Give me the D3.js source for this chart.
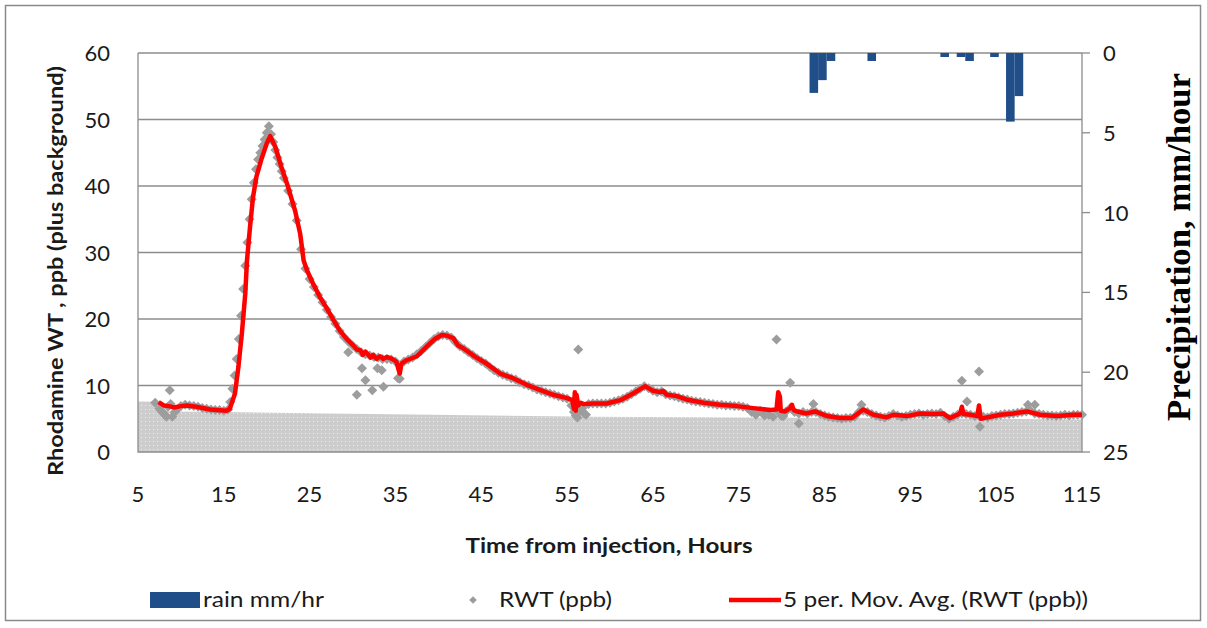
<!DOCTYPE html>
<html>
<head>
<meta charset="utf-8">
<script src="https://cdn.jsdelivr.net/npm/d3@7"></script>
<style>
  body { margin: 0; background: #fff; }
  svg { display: block; font-family: Lato, "Open Sans", sans-serif; }
</style>
</head>
<body>
<svg id="chart"></svg>
<script>
// RWT readings, hours from injection vs ppb
const rwt = [
  [7.0,7.4],[7.5,6.5],[8.0,5.8],[8.5,6.8],[9.0,5.3],[9.5,6.3],[10.0,6.9],[10.5,7.1],[11.0,7.0],[11.5,6.9],
  [12.0,6.8],[12.5,6.6],[13.0,6.5],[13.5,6.4],[14.0,6.3],[14.5,6.3],[15.0,6.2],[15.5,6.4],[15.75,7.5],[16.0,9.5],
  [16.25,11.5],[16.5,14.0],[16.75,17.0],[17.0,20.5],[17.25,24.5],[17.5,28.0],[17.75,31.5],[18.0,35.0],[18.25,38.0],[18.5,40.5],
  [18.75,42.5],[19.0,44.0],[19.25,45.0],[19.5,46.0],[19.75,47.0],[20.0,48.0],[20.25,49.0],[20.5,47.8],[20.75,46.6],[21.0,45.4],
  [21.25,44.3],[21.5,43.3],[21.75,42.2],[22.0,41.2],[22.5,39.3],[23.0,37.3],[23.5,34.8],[24.0,30.5],[24.5,27.6],[25.0,26.0],
  [25.5,24.8],[26.0,23.6],[26.5,22.5],[27.0,21.4],[27.5,20.3],[28.0,19.3],[28.5,18.2],[29.0,17.3],[29.5,16.6],[30.0,16.0],
  [30.5,15.5],[31.0,15.0],[31.5,14.7],[32.0,14.5],[32.5,14.3],[33.0,14.2],[33.5,14.0],[34.0,14.0],[34.5,13.9],[35.0,13.6],
  [35.5,11.0],[36.0,13.6],[36.5,13.9],[37.0,14.2],[37.5,14.7],[38.0,15.2],[38.5,15.8],[39.0,16.4],[39.5,17.0],[40.0,17.4],
  [40.5,17.6],[41.0,17.5],[41.5,17.2],[42.0,16.5],[42.5,15.9],[43.0,15.5],[43.5,15.0],[44.0,14.6],[44.5,14.1],[45.0,13.7],
  [45.5,13.3],[46.0,12.8],[46.5,12.3],[47.0,11.9],[47.5,11.6],[48.0,11.4],[48.5,11.1],[49.0,10.9],[49.5,10.5],[50.0,10.2],
  [50.5,10.0],[51.0,9.7],[51.5,9.4],[52.0,9.2],[52.5,9.0],[53.0,8.8],[53.5,8.6],[54.0,8.4],[54.5,8.2],[55.0,8.0],
  [55.5,7.0],[56.0,5.5],[56.5,6.2],[57.0,5.8],[57.5,7.2],[58.0,7.3],[58.5,7.3],[59.0,7.3],[59.5,7.3],[60.0,7.4],
  [60.5,7.6],[61.0,7.8],[61.5,8.0],[62.0,8.3],[62.5,8.7],[63.0,9.1],[63.5,9.5],[64.0,9.9],[64.5,9.6],[65.0,9.2],
  [65.5,9.0],[66.0,9.1],[66.5,8.7],[67.0,8.5],[67.5,8.4],[68.0,8.2],[68.5,8.0],[69.0,7.9],[69.5,7.7],[70.0,7.6],
  [70.5,7.5],[71.0,7.4],[71.5,7.3],[72.0,7.2],[72.5,7.1],[73.0,7.1],[73.5,7.0],[74.0,7.0],[74.5,6.9],[75.0,6.9],
  [75.5,6.8],[76.0,6.6],[76.5,6.0],[77.0,5.6],[77.5,6.2],[78.0,5.5],[78.5,5.6],[79.0,5.3],[79.5,6.2],[80.0,5.4],
  [80.5,6.1],[81.0,6.6],[81.5,6.0],[82.0,5.8],[82.5,6.0],[83.0,5.8],[83.5,6.0],[84.0,6.0],[84.5,5.7],[85.0,5.5],
  [85.5,5.3],[86.0,5.2],[86.5,5.1],[87.0,5.0],[87.5,5.1],[88.0,5.1],[88.5,5.3],[89.0,6.0],[89.5,6.2],[90.0,6.0],
  [90.5,5.7],[91.0,5.5],[91.5,5.3],[92.0,5.2],[92.5,5.4],[93.0,5.7],[93.5,5.5],[94.0,5.3],[94.5,5.4],[95.0,5.6],
  [95.5,5.7],[96.0,5.8],[96.5,5.6],[97.0,5.7],[97.5,5.8],[98.0,5.7],[98.5,5.9],[99.0,5.4],[99.5,5.0],[100.0,5.3],
  [100.5,5.6],[101.0,5.8],[101.5,5.7],[102.0,5.6],[102.5,5.4],[103.0,5.5],[103.5,5.3],[104.0,5.2],[104.5,5.4],[105.0,5.5],
  [105.5,5.6],[106.0,5.7],[106.5,5.7],[107.0,5.8],[107.5,5.9],[108.0,6.0],[108.5,6.1],[109.0,6.2],[109.5,5.8],[110.0,5.7],
  [110.5,5.6],[111.0,5.5],[111.5,5.5],[112.0,5.4],[112.5,5.5],[113.0,5.6],[113.5,5.5],[114.0,5.6],[114.5,5.6],[115.0,5.6]
];

// RWT readings that sit off the main band
const rwtStray = [
  [7.8,6.0],[8.3,5.3],[8.7,9.3],[8.8,7.2],[9.3,6.0],[29.5,15.0],[30.5,8.6],[31.1,12.6],[31.5,10.8],[32.3,9.3],
  [32.9,12.6],[33.4,12.3],[33.6,9.8],[35.3,11.1],[55.8,6.0],[56.2,5.2],[56.3,15.4],[56.8,6.6],[57.2,5.6],[79.4,16.9],
  [80.2,5.4],[81.0,10.4],[82.0,4.3],[83.7,7.2],[89.3,7.1],[101.0,10.7],[101.6,7.6],[103.0,12.1],[103.1,3.8],[108.7,7.1],
  [109.5,7.1]
];

// 5 period moving average of RWT (red line)
const movAvg = [
  [7.4,7.5],[8.0,7.0],[8.6,6.9],[9.2,6.7],[10.0,6.9],[10.7,7.0],[11.8,6.8],[13.4,6.4],[15.3,6.2],[15.7,6.5],
  [16.3,8.8],[16.7,12.8],[17.1,17.8],[17.5,23.8],[17.7,28.8],[18.05,33.8],[18.4,38.3],[18.8,41.4],[19.4,44.1],[20.0,46.4],
  [20.4,47.5],[21.0,45.9],[21.7,42.9],[22.5,39.8],[23.3,36.3],[23.9,32.8],[24.3,28.8],[24.7,27.3],[25.4,25.3],[26.2,23.3],
  [27.0,21.6],[27.8,19.8],[28.5,18.3],[29.3,17.0],[30.1,16.0],[30.5,15.4],[30.9,15.3],[31.2,14.6],[31.5,15.1],[31.7,14.8],
  [32.1,14.2],[32.4,14.6],[32.8,14.0],[33.2,14.4],[33.6,14.0],[34.0,14.3],[34.6,14.0],[35.1,13.6],[35.5,11.8],[35.7,13.3],
  [36.3,13.8],[37.5,14.4],[38.6,15.8],[39.6,17.0],[40.4,17.6],[41.0,17.5],[41.75,17.1],[42.3,16.0],[42.9,15.6],[44.3,14.3],
  [45.6,13.3],[47.2,11.8],[48.7,11.1],[50.3,10.1],[51.9,9.3],[53.4,8.6],[55.0,8.1],[55.6,7.8],[55.8,6.5],[55.9,9.0],
  [56.0,6.2],[56.1,8.6],[56.3,7.0],[56.6,7.4],[56.9,7.2],[58.0,7.3],[59.6,7.3],[61.2,7.8],[62.7,8.8],[64.1,9.9],
  [65.0,9.2],[65.8,9.0],[66.2,9.2],[66.6,8.6],[67.8,8.4],[68.9,7.9],[70.9,7.4],[72.8,7.1],[74.8,6.9],[76.7,6.6],
  [78.7,6.3],[79.4,6.4],[79.6,9.0],[79.8,8.3],[79.9,6.2],[80.4,6.1],[81.0,6.6],[81.2,7.1],[81.4,6.3],[81.8,6.1],
  [82.9,5.8],[83.9,6.1],[85.3,5.4],[86.8,5.1],[88.2,5.1],[89.5,6.4],[90.7,5.6],[92.2,5.2],[93.0,5.6],[94.6,5.4],
  [96.1,5.8],[97.7,5.7],[98.8,5.8],[99.6,5.1],[100.8,5.8],[101.0,6.8],[101.2,5.7],[102.0,5.6],[102.8,5.4],[103.0,7.0],
  [103.2,5.0],[103.9,5.2],[105.5,5.6],[107.0,5.8],[108.6,6.1],[110.1,5.6],[112.1,5.4],[114.0,5.6],[115.0,5.6]
];

// hourly rain, mm/hr (bar centre hour, value)
const rain = [
  [83.75,2.5],[84.75,1.7],[85.75,0.5],[90.5,0.5],[99.0,0.25],[100.9,0.25],[101.9,0.5],[104.8,0.25],[106.65,4.3],[107.65,2.7]
];

// background level shaded under the data
const background = [[5,7.6],[7.2,7.6],[8.5,6.1],[15.5,6.0],[58,5.3],[76,5.2],[115,4.9]];

const xTicks = [5, 15, 25, 35, 45, 55, 65, 75, 85, 95, 105, 115];
const yTicks = [0, 10, 20, 30, 40, 50, 60];
const rainTicks = [0, 5, 10, 15, 20, 25];

const width = 1207, height = 628;
const plot = {left: 138, right: 1082, top: 53, bottom: 452};

const svg = d3.select("#chart")
  .attr("width", width)
  .attr("height", height);

// outer frame
svg.append("rect")
  .attr("x", 5.5).attr("y", 5.5)
  .attr("width", 1195).attr("height", 615)
  .attr("fill", "#fff")
  .attr("stroke", "#8a8a8a")
  .attr("stroke-width", 1.5);

const x = d3.scaleLinear().domain([5, 115]).range([plot.left, plot.right]);
const y = d3.scaleLinear().domain([0, 60]).range([plot.bottom, plot.top]);
const yRain = d3.scaleLinear().domain([0, 25]).range([plot.top, plot.bottom]);

// dotted grey fill
const defs = svg.append("defs");
const pat = defs.append("pattern")
  .attr("id", "dots")
  .attr("patternUnits", "userSpaceOnUse")
  .attr("width", 4).attr("height", 4);
pat.append("rect").attr("width", 4).attr("height", 4).attr("fill", "#cdcdcd");
pat.append("rect").attr("x", 1).attr("y", 1).attr("width", 1).attr("height", 1).attr("fill", "#ececec");

const area = d3.area()
  .x(d => x(d[0]))
  .y0(y(0))
  .y1(d => y(d[1]));

svg.append("path")
  .datum(background)
  .attr("d", area)
  .attr("fill", "url(#dots)");

// gridlines
svg.append("g")
  .selectAll("line")
  .data(yTicks.filter(t => t > 0))
  .join("line")
  .attr("x1", plot.left).attr("x2", plot.right)
  .attr("y1", d => y(d)).attr("y2", d => y(d))
  .attr("stroke", "#8c8c8c")
  .attr("stroke-width", 1.3);

// axis lines
svg.append("path")
  .attr("d", `M${plot.left},${plot.top}V${plot.bottom}H${plot.right}V${plot.top}`)
  .attr("fill", "none")
  .attr("stroke", "#8c8c8c")
  .attr("stroke-width", 1.3);

// right axis ticks
svg.append("g")
  .selectAll("line")
  .data(rainTicks)
  .join("line")
  .attr("x1", plot.right).attr("x2", plot.right + 8)
  .attr("y1", d => yRain(d)).attr("y2", d => yRain(d))
  .attr("stroke", "#8c8c8c")
  .attr("stroke-width", 1.3);

// rain bars hanging from the top
svg.append("g")
  .selectAll("rect")
  .data(rain)
  .join("rect")
  .attr("x", d => x(d[0] - 0.5))
  .attr("width", d => x(d[0] + 0.5) - x(d[0] - 0.5))
  .attr("y", yRain(0))
  .attr("height", d => yRain(d[1]) - yRain(0))
  .attr("fill", "#1f4e89");

// RWT diamonds
const diamond = d3.symbol(d3.symbolSquare).size(50);
svg.append("g")
  .selectAll("path")
  .data(rwt.concat(rwtStray))
  .join("path")
  .attr("d", diamond)
  .attr("transform", d => `translate(${x(d[0])},${y(d[1])}) rotate(45)`)
  .attr("fill", "#9d9d9d");

// moving average line
const line = d3.line()
  .x(d => x(d[0]))
  .y(d => y(d[1]));

svg.append("path")
  .datum(movAvg)
  .attr("d", line)
  .attr("fill", "none")
  .attr("stroke", "#ff0000")
  .attr("stroke-width", 4.5)
  .attr("stroke-linejoin", "round");

// tick labels
const labelStyle = sel => sel.attr("font-size", 22).attr("fill", "#1a1a1a");

svg.append("g")
  .selectAll("text")
  .data(yTicks)
  .join("text")
  .attr("x", 110)
  .attr("y", d => y(d) + 8)
  .attr("text-anchor", "end")
  .text(d => d)
  .call(labelStyle);

svg.append("g")
  .selectAll("text")
  .data(rainTicks)
  .join("text")
  .attr("x", 1103)
  .attr("y", d => yRain(d) + 8)
  .text(d => d)
  .call(labelStyle);

svg.append("g")
  .selectAll("text")
  .data(xTicks)
  .join("text")
  .attr("x", d => x(d))
  .attr("y", 502)
  .attr("text-anchor", "middle")
  .text(d => d)
  .call(labelStyle);

// axis titles
svg.append("text")
  .attr("transform", "translate(63,271) rotate(-90)")
  .attr("text-anchor", "middle")
  .attr("font-size", 21)
  .attr("font-weight", "bold")
  .attr("fill", "#1a1a1a")
  .attr("textLength", 410)
  .attr("lengthAdjust", "spacingAndGlyphs")
  .text("Rhodamine WT , ppb (plus background)");

svg.append("text")
  .attr("x", 609)
  .attr("y", 553)
  .attr("text-anchor", "middle")
  .attr("font-size", 21)
  .attr("font-weight", "bold")
  .attr("fill", "#1a1a1a")
  .attr("textLength", 287)
  .attr("lengthAdjust", "spacingAndGlyphs")
  .text("Time from injection, Hours");

svg.append("text")
  .attr("transform", "translate(1190,247) rotate(-90)")
  .attr("text-anchor", "middle")
  .attr("font-family", "'Liberation Serif', 'Times New Roman', serif")
  .attr("font-size", 33)
  .attr("font-weight", "bold")
  .attr("fill", "#000")
  .attr("textLength", 348)
  .attr("lengthAdjust", "spacingAndGlyphs")
  .text("Precipitation, mm/hour");

// legend
const legend = svg.append("g");
legend.append("rect")
  .attr("x", 150).attr("y", 592)
  .attr("width", 50).attr("height", 16)
  .attr("fill", "#1f4e89");
legend.append("text")
  .attr("x", 203).attr("y", 607)
  .attr("font-size", 22).attr("fill", "#1a1a1a")
  .attr("textLength", 121).attr("lengthAdjust", "spacingAndGlyphs")
  .text("rain mm/hr");

legend.append("path")
  .attr("d", d3.symbol(d3.symbolSquare).size(30))
  .attr("transform", "translate(473,600) rotate(45)")
  .attr("fill", "#9d9d9d");
legend.append("text")
  .attr("x", 499).attr("y", 607)
  .attr("font-size", 22).attr("fill", "#1a1a1a")
  .attr("textLength", 113).attr("lengthAdjust", "spacingAndGlyphs")
  .text("RWT (ppb)");

legend.append("line")
  .attr("x1", 729).attr("x2", 781)
  .attr("y1", 600).attr("y2", 600)
  .attr("stroke", "#ff0000")
  .attr("stroke-width", 4.5);
legend.append("text")
  .attr("x", 783).attr("y", 607)
  .attr("font-size", 22).attr("fill", "#1a1a1a")
  .attr("textLength", 305).attr("lengthAdjust", "spacingAndGlyphs")
  .text("5 per. Mov. Avg. (RWT (ppb))");
</script>
</body>
</html>
